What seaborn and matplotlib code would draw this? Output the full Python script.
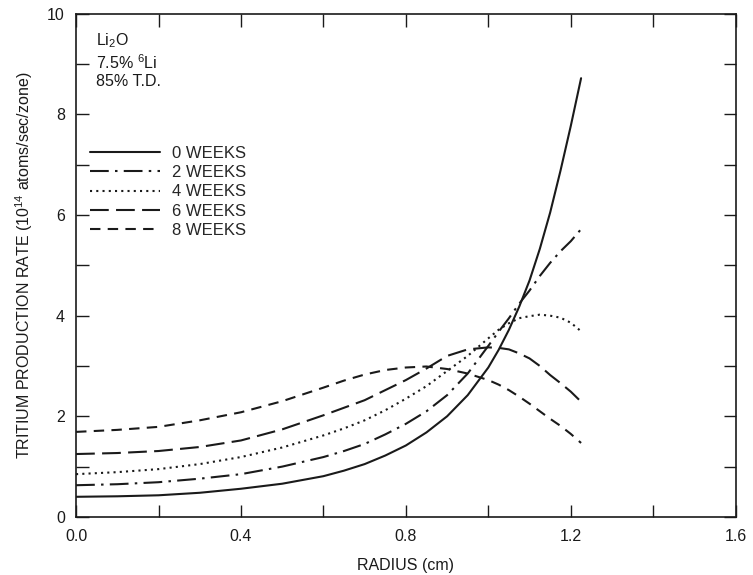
import numpy as np
import pandas as pd
import matplotlib
matplotlib.use("Agg")
import matplotlib.pyplot as plt
from matplotlib.ticker import MultipleLocator
import seaborn as sns

# ---- data ----
radius = [0.0, 0.1, 0.2, 0.3, 0.4, 0.5, 0.6, 0.65, 0.7, 0.75, 0.8, 0.85, 0.9, 0.95,
          1.0, 1.025, 1.05, 1.075, 1.1, 1.125, 1.15, 1.175, 1.2, 1.225]
week0 = [0.40, 0.41, 0.43, 0.48, 0.56, 0.66, 0.81, 0.92, 1.05, 1.22, 1.42, 1.68, 2.00, 2.42,
         2.97, 3.32, 3.72, 4.18, 4.70, 5.33, 6.05, 6.88, 7.77, 8.72]
week2 = [0.63, 0.65, 0.69, 0.76, 0.85, 1.00, 1.19, 1.31, 1.45, 1.64, 1.85, 2.10, 2.42, 2.85,
         3.40, 3.68, 3.95, 4.24, 4.50, 4.79, 5.05, 5.28, 5.48, 5.72]
week4 = [0.85, 0.89, 0.95, 1.05, 1.19, 1.38, 1.62, 1.76, 1.92, 2.12, 2.35, 2.60, 2.90, 3.20,
         3.55, 3.72, 3.85, 3.95, 3.99, 4.02, 4.00, 3.96, 3.86, 3.69]
week6 = [1.25, 1.27, 1.31, 1.39, 1.52, 1.74, 2.02, 2.17, 2.32, 2.52, 2.72, 2.95, 3.20, 3.33,
         3.37, 3.36, 3.33, 3.25, 3.15, 3.00, 2.82, 2.66, 2.49, 2.29]
week8 = [1.69, 1.73, 1.79, 1.92, 2.08, 2.30, 2.57, 2.71, 2.83, 2.92, 2.97, 2.99, 2.94, 2.85,
         2.72, 2.63, 2.52, 2.39, 2.25, 2.10, 1.95, 1.81, 1.65, 1.47]
series_labels = ["0 WEEKS", "2 WEEKS", "4 WEEKS", "6 WEEKS", "8 WEEKS"]
x_ticks = [0.0, 0.4, 0.8, 1.2, 1.6]
y_ticks = [0, 2, 4, 6, 8, 10]

series_values = [week0, week2, week4, week6, week8]
df = pd.concat(
    [pd.DataFrame({"radius": radius, "rate": v, "series": lab})
     for v, lab in zip(series_values, series_labels)],
    ignore_index=True,
)

sns.set_style("ticks")
plt.rcParams["font.family"] = ["Liberation Sans", "DejaVu Sans"]
plt.rcParams["mathtext.fontset"] = "custom"
plt.rcParams["mathtext.rm"] = "Liberation Sans"
plt.rcParams["mathtext.it"] = "Liberation Sans"

fig = plt.figure(figsize=(7.53, 5.75), dpi=100)
ax = fig.add_axes([0.101, 0.101, 0.876, 0.875])

dashes = {
    "0 WEEKS": "",
    "2 WEEKS": (9, 3, 1.2, 3),
    "4 WEEKS": (1, 2),
    "6 WEEKS": (9, 3.5),
    "8 WEEKS": (5, 3.5),
}
sns.lineplot(data=df, x="radius", y="rate", style="series", dashes=dashes,
             style_order=series_labels, color="#1a1a1a", linewidth=1.5,
             estimator=None, sort=True, ax=ax, legend=True)

ax.set_xlim(0, 1.6)
ax.set_ylim(0, 10)
ax.set_xticks(x_ticks)
ax.set_xticklabels([f"{t:.1f}" for t in x_ticks])
ax.set_yticks(y_ticks)
ax.set_yticklabels([str(t) for t in y_ticks])
ax.xaxis.set_minor_locator(MultipleLocator(0.2))
ax.yaxis.set_minor_locator(MultipleLocator(1))
ax.tick_params(which="both", direction="in", length=9, width=1.0,
               top=True, right=True, colors="#1a1a1a", labelsize=11.5)
ax.tick_params(axis="x", pad=9)
ax.tick_params(axis="y", pad=8)
for s in ax.spines.values():
    s.set_linewidth(1.2)
    s.set_color("#1a1a1a")

ax.set_xlabel("RADIUS (cm)", fontsize=11.5, labelpad=10, color="#1a1a1a")
ax.set_ylabel("TRITIUM PRODUCTION RATE (10$^{14}$ atoms/sec/zone)",
              fontsize=11.5, labelpad=9, color="#1a1a1a")

handles, labels = ax.get_legend_handles_labels()
ax.legend(handles, labels, loc="upper left", bbox_to_anchor=(0.021, 0.737),
          frameon=False, fontsize=12, handlelength=4.2, handletextpad=0.7,
          labelspacing=0.25, borderpad=0, borderaxespad=0)

ax.text(0.03, 0.965, "Li$_2$O\n7.5% $^6$Li\n85% T.D.", transform=ax.transAxes,
        ha="left", va="top", fontsize=11.5, linespacing=1.2, color="#1a1a1a")

fig.savefig("out.png", dpi=100)
